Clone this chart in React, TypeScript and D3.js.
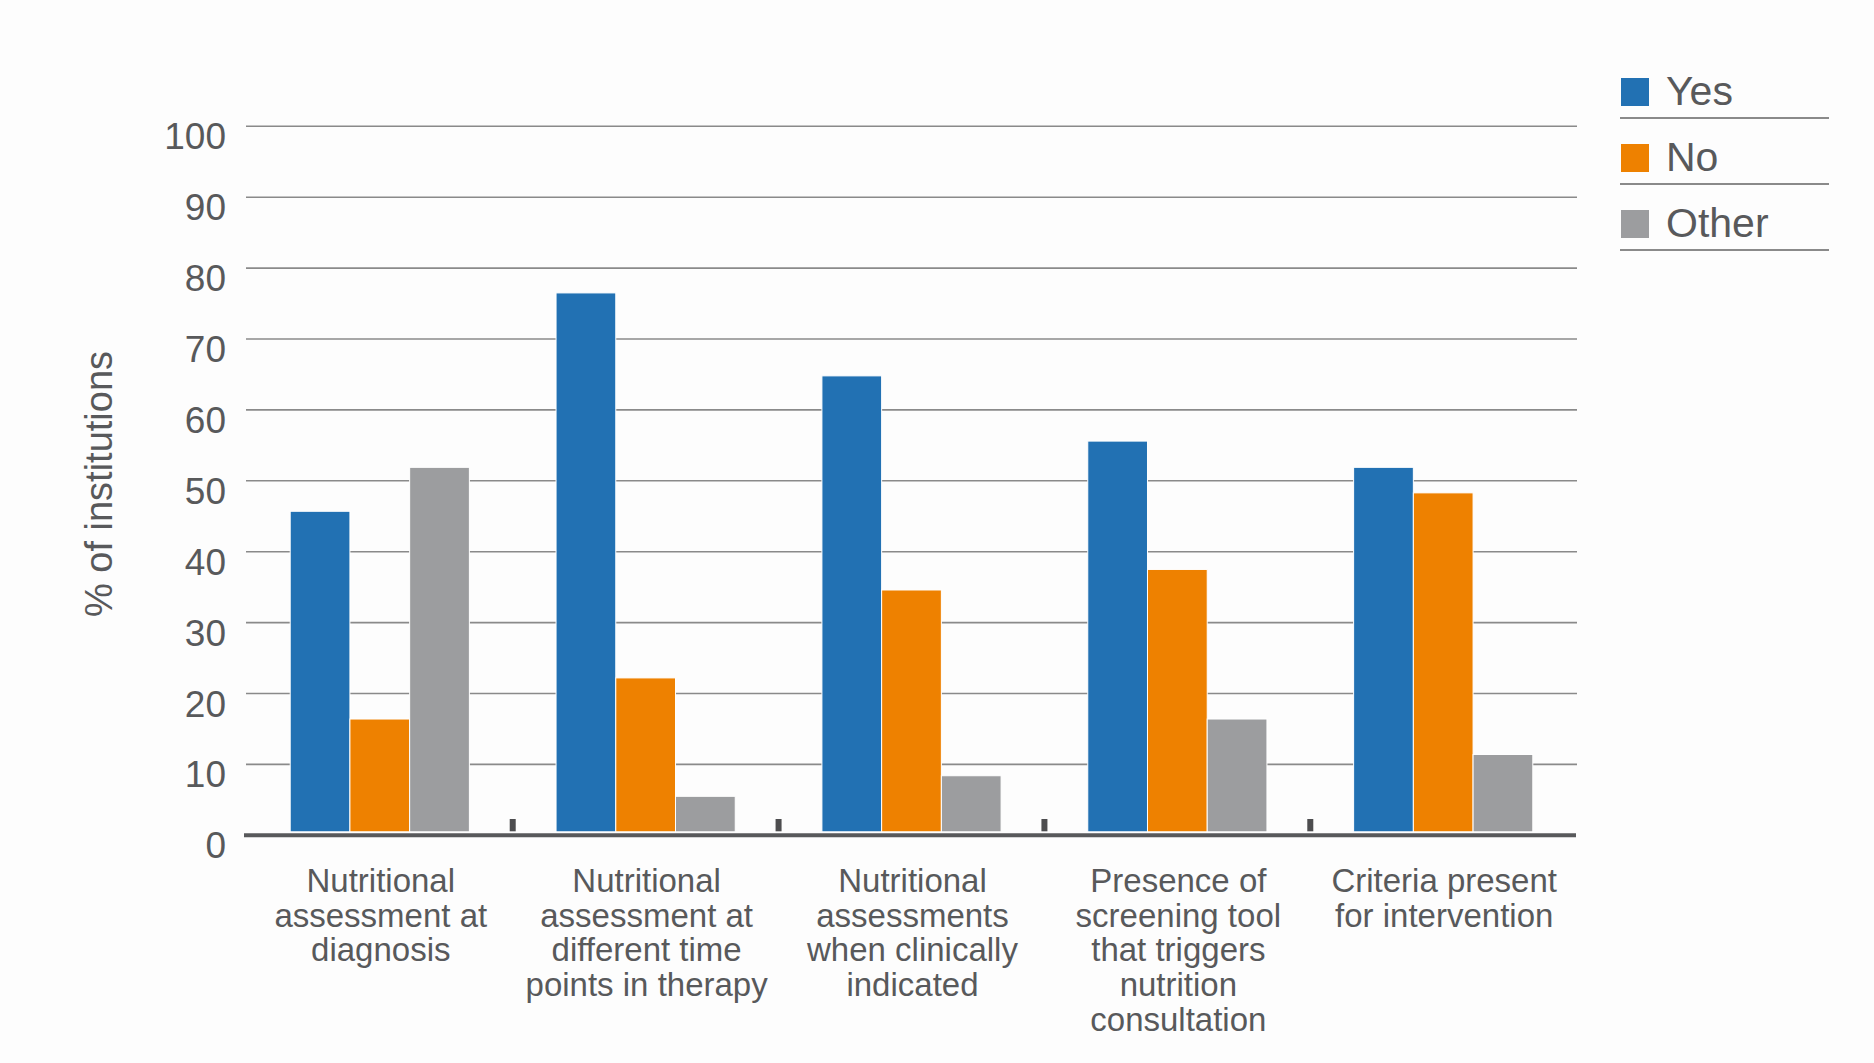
import React from 'react';
import * as d3 from 'd3';

const categories = [
  'Nutritional assessment at diagnosis',
  'Nutritional assessment at different time points in therapy',
  'Nutritional assessments when clinically indicated',
  'Presence of screening tool that triggers nutrition consultation',
  'Criteria present for intervention',
];

// wrapped lines exactly as printed under each group
const categoryLines = [
  ['Nutritional', 'assessment at', 'diagnosis'],
  ['Nutritional', 'assessment at', 'different time', 'points in therapy'],
  ['Nutritional', 'assessments', 'when clinically', 'indicated'],
  ['Presence of', 'screening tool', 'that triggers', 'nutrition', 'consultation'],
  ['Criteria present', 'for intervention'],
];

const seriesNames = ['Yes', 'No', 'Other'];
const seriesColors = ['#2271b3', '#ee8100', '#9c9d9f'];

const yesValues = [45.7, 76.5, 64.8, 55.6, 51.9];
const noValues = [16.4, 22.2, 34.6, 37.5, 48.3];
const otherValues = [51.9, 5.5, 8.4, 16.4, 11.4];

const yTicks = [0, 10, 20, 30, 40, 50, 60, 70, 80, 90, 100];

const W = 1874;
const H = 1063;
const FONT = '"Liberation Sans", Arial, Helvetica, sans-serif';
const TEXT = '#58595b';

export default function App() {
  const values = [yesValues, noValues, otherValues];

  const x0 = d3.scaleBand<string>()
    .domain(categories)
    .range([245, 1578])
    .paddingInner(0.326)
    .paddingOuter(0.17);

  const x1 = d3.scaleBand<string>()
    .domain(seriesNames)
    .range([0, x0.bandwidth()]);

  const y = d3.scaleLinear().domain([0, 100]).range([835.3, 126.3]);
  const base = y(0);

  return (
    <svg
      width={W}
      height={H}
      style={{ position: 'absolute', left: 0, top: 0, background: '#fdfdfd' }}
      fontFamily={FONT}
    >
      {/* gridlines */}
      {yTicks.filter(t => t > 0).map(t => (
        <line key={'g' + t} x1={246} x2={1577} y1={y(t)} y2={y(t)} stroke="#8a8a8a" strokeWidth={1.6} />
      ))}

      {/* y tick labels */}
      {yTicks.map(t => (
        <text key={'t' + t} x={226} y={y(t) + 23} textAnchor="end" fontSize={37} fill={TEXT}>
          {t}
        </text>
      ))}

      {/* y axis title */}
      <text
        transform={`translate(112, 484) rotate(-90)`}
        textAnchor="middle"
        fontSize={38}
        fill={TEXT}
      >
        % of institutions
      </text>

      {/* bars */}
      {categories.map((c, ci) => (
        <g key={c} transform={`translate(${x0(c)}, 0)`}>
          {seriesNames.map((s, si) => {
            const v = values[si][ci];
            return (
              <rect
                key={s}
                x={x1(s)}
                y={y(v)}
                width={x1.bandwidth()}
                height={base - 3.5 - y(v)}
                fill={seriesColors[si]}
                stroke="#ffffff"
                strokeWidth={1}
              />
            );
          })}
        </g>
      ))}

      {/* small separators between groups */}
      {categories.slice(0, -1).map((c, ci) => {
        const cx = ((x0(c) as number) + x0.bandwidth() + (x0(categories[ci + 1]) as number)) / 2;
        return <rect key={'s' + ci} x={cx - 3} y={base - 16.3} width={6} height={12.3} fill="#4d4d4f" />;
      })}

      {/* baseline */}
      <line x1={244} x2={1576} y1={base} y2={base} stroke="#58595b" strokeWidth={4} />

      {/* category labels */}
      {categories.map((c, ci) => {
        const cx = (x0(c) as number) + x0.bandwidth() / 2 + 1;
        return (
          <text key={'c' + ci} textAnchor="middle" fontSize={33} fill={TEXT}>
            {categoryLines[ci].map((ln, li) => (
              <tspan key={li} x={cx} y={891.7 + li * 34.8}>{ln}</tspan>
            ))}
          </text>
        );
      })}

      {/* legend */}
      {seriesNames.map((s, i) => (
        <g key={'l' + s} transform={`translate(0, ${i * 66})`}>
          <rect x={1621} y={78} width={28} height={28} fill={seriesColors[i]} />
          <text x={1666} y={105} fontSize={41} fill={TEXT}>{s}</text>
          <line x1={1620} x2={1829} y1={118} y2={118} stroke="#8a8a8a" strokeWidth={2} />
        </g>
      ))}
    </svg>
  );
}
